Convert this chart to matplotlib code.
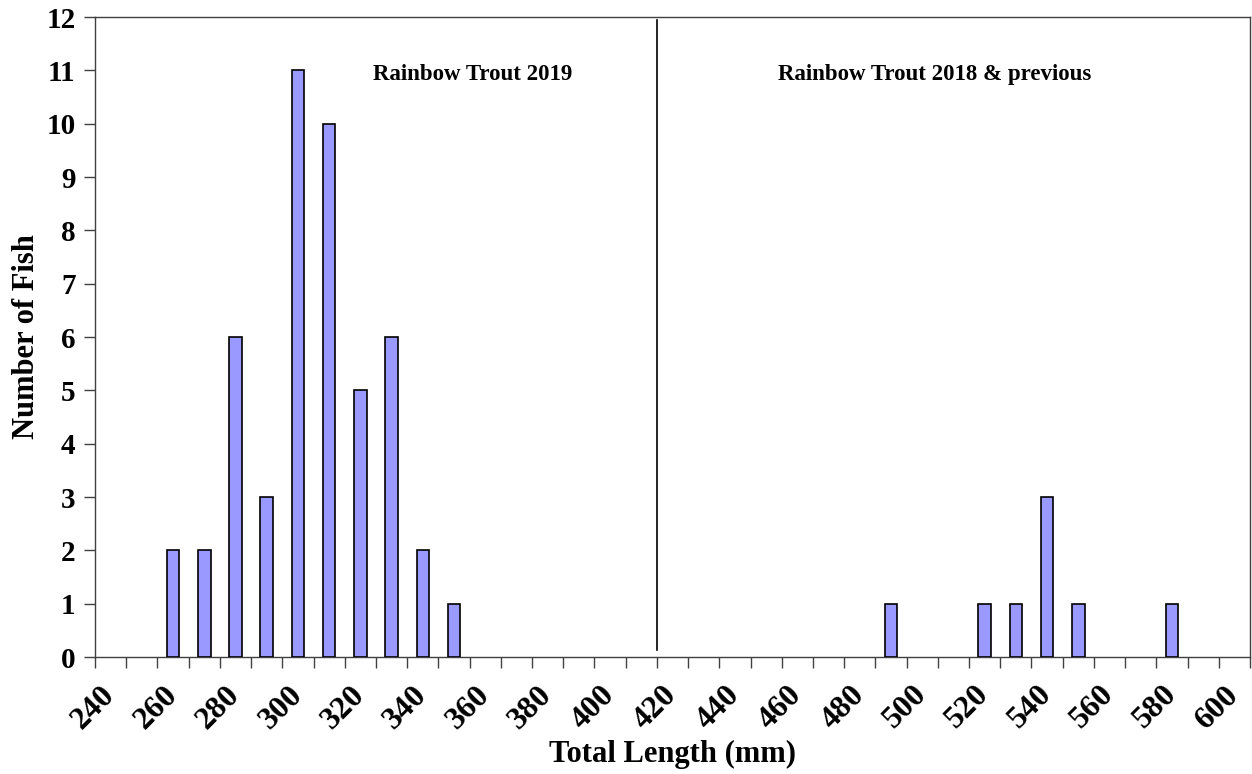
import matplotlib.pyplot as plt

# Length classes on the category axis (mm)
length_classes = list(range(240, 610, 10))

# Fish counts per length class
lengths_2019 = [260, 270, 280, 290, 300, 310, 320, 330, 340, 350]
counts_2019 = [2, 2, 6, 3, 11, 10, 5, 6, 2, 1]

lengths_older = [490, 520, 530, 540, 550, 580]
counts_older = [1, 1, 1, 3, 1, 1]

split_length = 420

plt.rcParams['font.family'] = ['Liberation Serif', 'DejaVu Serif']
plt.rcParams['font.weight'] = 'bold'

fig = plt.figure(figsize=(12.52, 7.74), dpi=100)
ax = fig.add_axes([95 / 1252, 117 / 774, 1155 / 1252, 640 / 774])

bar_color = '#9999FF'
lengths = lengths_2019 + lengths_older
counts = counts_2019 + counts_older
positions = [length_classes.index(v) + 0.5 for v in lengths]
ax.bar(positions, counts, width=0.4, color=bar_color, edgecolor='black', linewidth=1.2, zorder=3)

# Divider between the two age groups
split_x = length_classes.index(split_length)
ax.plot([split_x, split_x], [0.13, 11.95], color='black', linewidth=1.2)

ax.set_xlim(0, len(length_classes))
ax.set_ylim(0, 12)

ax.set_xticks(range(len(length_classes) + 1))
ax.set_xticklabels([])
ax.set_xticks([i + 0.5 for i in range(0, len(length_classes), 2)], minor=True)
ax.set_xticklabels([str(v) for v in length_classes[::2]], minor=True,
                   rotation=45, ha='right', va='center', rotation_mode='anchor',
                   fontsize=23, fontweight='bold')
ax.tick_params(axis='x', which='major', direction='out', length=8, width=1, color='#404040')
ax.tick_params(axis='x', which='minor', length=0, pad=24)

ax.set_yticks(range(0, 13))
ax.tick_params(axis='y', direction='out', length=8, width=1, color='#404040', labelsize=21, pad=6)
for lbl in ax.get_yticklabels():
    lbl.set_fontweight('bold')

for spine in ax.spines.values():
    spine.set_color('#404040')
    spine.set_linewidth(1)

ax.set_xlabel('Total Length (mm)', fontsize=22, fontweight='bold', labelpad=4)
ax.set_ylabel('Number of Fish', fontsize=22, fontweight='bold', labelpad=4)

ax.text(12.1, 10.92, 'Rainbow Trout 2019', fontsize=16.5, fontweight='bold',
        ha='center', va='center')
ax.text(26.9, 10.92, 'Rainbow Trout 2018 & previous', fontsize=16.5, fontweight='bold',
        ha='center', va='center')

fig.savefig('out.png', dpi=100)
